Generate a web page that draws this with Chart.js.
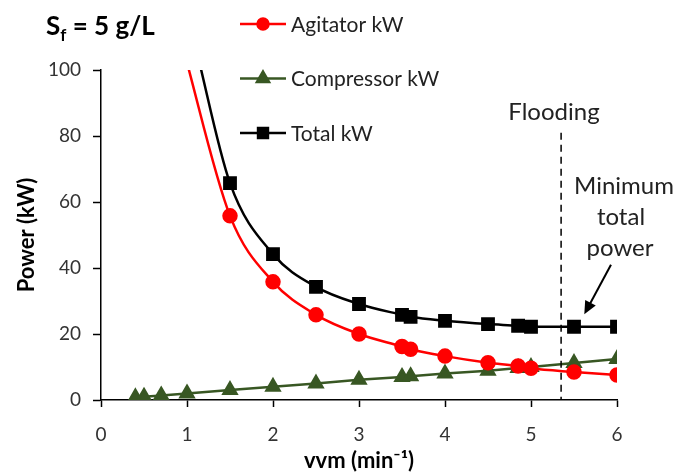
<!DOCTYPE html>
<html>
<head>
<meta charset="utf-8">
<script src="https://cdn.jsdelivr.net/npm/chart.js@4/dist/chart.umd.min.js"></script>
<style>
html, body { margin: 0; padding: 0; background: #fff; }
#wrap { position: relative; width: 678px; height: 472px; }
#title { position: absolute; left: 46px; top: 9px; font: bold 26px Lato, sans-serif; color: #000; }
#title sub { font-size: 17px; }
</style>
</head>
<body>
<div id="wrap">
    <canvas id="chart" width="678" height="472"></canvas>
    <div id="title">S<sub>f</sub> = 5 g/L</div>
</div>
<script>
// first point of agitator / total is only the curve leaving the top of the plot (no marker)
const vvmAgitator = [0.95, 1.5, 2, 2.5, 3, 3.5, 3.6, 4, 4.5, 4.85, 5, 5.5, 6];
const agitatorKW = [107, 55.8, 35.8, 25.8, 20.0, 16.2, 15.4, 13.3, 11.3, 10.3, 9.6, 8.5, 7.6];
const vvmCompressor = [0.4, 0.5, 0.7, 1, 1.5, 2, 2.5, 3, 3.5, 3.6, 4, 4.5, 4.85, 5, 5.5, 6];
const compressorKW = [0.8, 1.0, 1.4, 2.0, 3.0, 4.0, 5.0, 6.1, 7.0, 7.2, 8.0, 8.9, 9.7, 10.0, 11.2, 12.4];
const vvmTotal = [1.1, 1.5, 2, 2.5, 3, 3.5, 3.6, 4, 4.5, 4.85, 5, 5.5, 6];
const totalKW = [107, 65.7, 44.2, 34.3, 29.1, 25.8, 25.2, 24.0, 23.0, 22.5, 22.2, 22.2, 22.2];
const xTicks = [0, 1, 2, 3, 4, 5, 6];
const yTicks = [0, 20, 40, 60, 80, 100];

const floodingVvm = 5.35;
const floodingTop = 81;
const arrowFrom = { x: 5.93, y: 41 };
const arrowTo = { x: 5.62, y: 26 };

const FONT = 'Lato, sans-serif';
const pts = (xs, ys) => xs.map((x, i) => ({ x, y: ys[i] }));

const annotations = {
    id: 'annotations',
    afterDatasetsDraw(chart) {
        const { ctx, scales: { x, y } } = chart;
        ctx.save();
        // flooding line
        ctx.strokeStyle = '#000';
        ctx.lineWidth = 1.5;
        ctx.setLineDash([7, 5]);
        ctx.beginPath();
        ctx.moveTo(x.getPixelForValue(floodingVvm), y.getPixelForValue(floodingTop));
        ctx.lineTo(x.getPixelForValue(floodingVvm), y.getPixelForValue(0));
        ctx.stroke();
        ctx.setLineDash([]);

        // arrow
        const x1 = x.getPixelForValue(arrowFrom.x), y1 = y.getPixelForValue(arrowFrom.y);
        const x2 = x.getPixelForValue(arrowTo.x), y2 = y.getPixelForValue(arrowTo.y);
        const a = Math.atan2(y2 - y1, x2 - x1);
        ctx.lineWidth = 2;
        ctx.beginPath();
        ctx.moveTo(x1, y1);
        ctx.lineTo(x2 - 8 * Math.cos(a), y2 - 8 * Math.sin(a));
        ctx.stroke();
        ctx.fillStyle = '#000';
        ctx.beginPath();
        ctx.moveTo(x2, y2);
        ctx.lineTo(x2 - 13 * Math.cos(a) + 6 * Math.sin(a), y2 - 13 * Math.sin(a) - 6 * Math.cos(a));
        ctx.lineTo(x2 - 13 * Math.cos(a) - 6 * Math.sin(a), y2 - 13 * Math.sin(a) + 6 * Math.cos(a));
        ctx.closePath();
        ctx.fill();

        // texts
        ctx.fillStyle = '#222';
        ctx.font = '24px ' + FONT;
        ctx.textAlign = 'center';
        ctx.textBaseline = 'middle';
        ctx.fillText('Flooding', 554, 112);
        ctx.fillText('Minimum', 624, 186);
        ctx.fillText('total', 621, 217);
        ctx.fillText('power', 620, 248);

        // legend
        ctx.font = '21px ' + FONT;
        ctx.textAlign = 'left';
        chart.data.datasets.forEach((ds, i) => {
            const ly = 24 + i * 54.5;
            ctx.strokeStyle = ds.borderColor;
            ctx.lineWidth = 2.5;
            ctx.beginPath();
            ctx.moveTo(240, ly);
            ctx.lineTo(286, ly);
            ctx.stroke();
            ctx.fillStyle = ds.pointBackgroundColor;
            ctx.strokeStyle = ds.borderColor;
            Chart.helpers.drawPoint(ctx, { pointStyle: ds.pointStyle, radius: ds.legendRadius, rotation: 0, borderWidth: 1 }, 263, ly);
            ctx.fillStyle = '#222';
            ctx.fillText(ds.label, 291, ly + 1);
        });
        ctx.restore();
    }
};

const hideFirst = (n, r) => Array.from({ length: n }, (_, i) => i === 0 ? 0 : r);

new Chart(document.getElementById('chart'), {
    type: 'line',
    data: {
        datasets: [
            { label: 'Agitator kW', data: pts(vvmAgitator, agitatorKW), borderColor: '#ff0000', backgroundColor: '#ff0000', pointBackgroundColor: '#ff0000', pointStyle: 'circle', pointRadius: hideFirst(vvmAgitator.length, 6.5), legendRadius: 5.5, borderWidth: 2.5, cubicInterpolationMode: 'monotone' },
            { label: 'Compressor kW', data: pts(vvmCompressor, compressorKW), borderColor: '#385723', backgroundColor: '#385723', pointBackgroundColor: '#385723', pointStyle: 'triangle', pointRadius: 7.5, legendRadius: 7, borderWidth: 2.5, tension: 0 },
            { label: 'Total kW', data: pts(vvmTotal, totalKW), borderColor: '#000', backgroundColor: '#000', pointBackgroundColor: '#000', pointStyle: 'rect', pointRadius: hideFirst(vvmTotal.length, 8), legendRadius: 7, borderWidth: 2.5, cubicInterpolationMode: 'monotone' }
        ]
    },
    options: {
        responsive: false,
        animation: false,
        layout: { padding: { top: 70, right: 61, left: 0, bottom: 0 } },
        plugins: { legend: { display: false }, tooltip: { enabled: false } },
        scales: {
            x: {
                type: 'linear', min: 0, max: 6,
                afterBuildTicks: s => { s.ticks = xTicks.map(v => ({ value: v })); },
                afterFit: s => { s.height = 72; },
                grid: { drawOnChartArea: false, tickLength: 7, color: '#000', tickWidth: 1.5 },
                border: { color: '#000', width: 1.5 },
                ticks: { color: '#333', font: { family: FONT, size: 19 }, padding: 16 },
                title: { display: true, text: 'vvm (min⁻¹)', color: '#000', font: { family: FONT, size: 22, weight: 'bold', lineHeight: 1 }, padding: { top: 0, bottom: 0 } }
            },
            y: {
                min: 0, max: 100,
                afterBuildTicks: s => { s.ticks = yTicks.map(v => ({ value: v })); },
                afterFit: s => { s.width = 101; },
                grid: { drawOnChartArea: false, tickLength: 8, color: '#000', tickWidth: 1.5 },
                border: { color: '#000', width: 1.5 },
                ticks: { color: '#333', font: { family: FONT, size: 19 }, padding: 12 },
                title: { display: true, text: 'Power (kW)', color: '#000', font: { family: FONT, size: 22, weight: 'bold' }, padding: { top: 14, bottom: 0 } }
            }
        }
    },
    plugins: [annotations]
});
</script>
</body>
</html>
